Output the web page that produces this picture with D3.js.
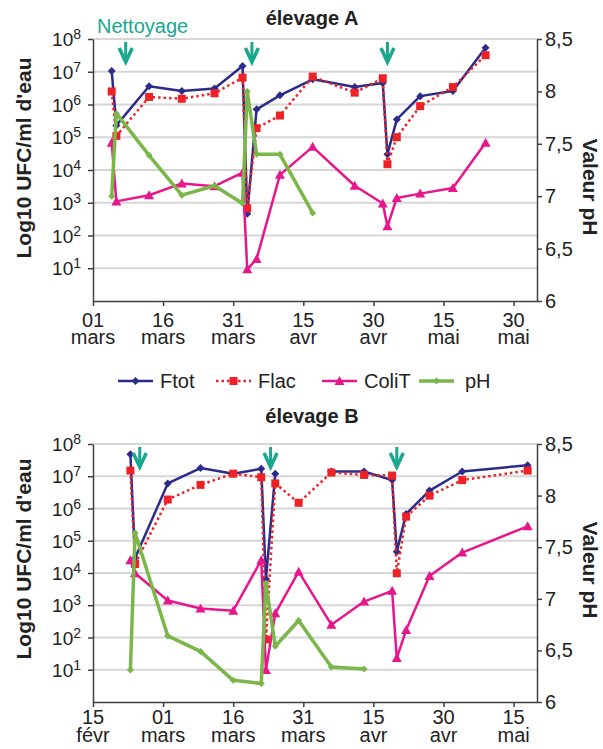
<!DOCTYPE html>
<html>
<head>
<meta charset="utf-8">
<script src="https://cdn.jsdelivr.net/npm/d3@7/dist/d3.min.js"></script>
<style>
  body { margin: 0; background: #fff; }
  text { font-family: "Liberation Sans", Arial, Helvetica, sans-serif; fill: #222; }
</style>
</head>
<body>
<div id="chart"></div>
<script>
// ---- data : élevage A ----
const datesA = ["2008-03-05", "2008-03-06", "2008-03-13", "2008-03-20", "2008-03-27", "2008-04-02", "2008-04-03",
  "2008-04-05", "2008-04-10", "2008-04-17", "2008-04-26", "2008-05-02", "2008-05-03", "2008-05-05",
  "2008-05-10", "2008-05-17", "2008-05-24"]
const ftotA = [1.05e7, 2.3e5, 3.6e6, 2.6e6, 3.1e6, 1.5e7, 4.6e2, 7.1e5, 1.9e6, 5.9e6, 3.4e6, 4.5e6, 3.0e4, 3.5e5, 1.8e6, 2.6e6, 5.4e7]
const flacA = [2.5e6, 1.1e5, 1.7e6, 1.5e6, 2.2e6, 6.6e6, 6.8e2, 1.9e5, 4.6e5, 7.1e6, 2.3e6, 6.3e6, 1.5e4, 1.0e5, 8.9e5, 3.4e6, 3.2e7]
const colitA = [6.8e4, 1.1e3, 1.7e3, 3.9e3, 3.2e3, 8.3e3, 9.3, 19, 7.1e3, 5.1e4, 3.3e3, 9.5e2, 1.9e2, 1.4e3, 1.9e3, 2.8e3, 6.8e4]
const phA = [7.00, 7.79, 7.39, 7.01, 7.10, 6.93, 8.00, 7.40, 7.40, 6.84, null, null, null, null, null, null, null]
const cleaningA = ["2008-03-08", "2008-04-04", "2008-05-03"]
const tickDatesA = ["2008-03-01", "2008-03-16", "2008-03-31", "2008-04-15", "2008-04-30", "2008-05-15", "2008-05-30"]
const tickDaysA = ["01", "16", "31", "15", "30", "15", "30"]
const tickMonthsA = ["mars", "mars", "mars", "avr", "avr", "mai", "mai"]

// ---- data : élevage B ----
const datesB = ["2008-02-23", "2008-02-24", "2008-03-02", "2008-03-09", "2008-03-16", "2008-03-22", "2008-03-23",
  "2008-03-25", "2008-03-30", "2008-04-06", "2008-04-13", "2008-04-19", "2008-04-20", "2008-04-22",
  "2008-04-27", "2008-05-04", "2008-05-18"]
const ftotB = [4.8e7, 2.9e4, 6.0e6, 1.8e7, 1.2e7, 1.7e7, 6.5e3, 1.2e7, null, 1.4e7, 1.4e7, 7.6e6, 4.6e4, 6.8e5, 3.6e6, 1.4e7, 2.2e7]
const flacB = [1.5e7, 1.9e4, 1.9e6, 5.4e6, 1.2e7, 9.3e6, 87, 6.0e6, 1.5e6, 1.3e7, 1.1e7, 1.05e7, 9.8e3, 5.6e5, 2.5e6, 7.6e6, 1.5e7]
const colitB = [2.5e4, 9.8e3, 1.4e3, 7.9e2, 6.8e2, 2.5e4, 9.8, 5.6e2, 1.1e4, 2.5e2, 1.3e3, 2.8e3, 23, 1.7e2, 8.1e3, 4.3e4, 2.8e5]
const phB = [6.31, 7.64, 6.64, 6.49, 6.21, 6.18, 7.15, 6.54, 6.79, 6.34, 6.32, null, null, null, null, null, null]
const cleaningB = ["2008-02-25", "2008-03-24", "2008-04-20"]
const tickDatesB = ["2008-02-15", "2008-03-01", "2008-03-16", "2008-03-31", "2008-04-15", "2008-04-30", "2008-05-15"]
const tickDaysB = ["15", "01", "16", "31", "15", "30", "15"]
const tickMonthsB = ["févr", "mars", "mars", "mars", "avr", "avr", "mai"]

const decades = [1e1, 1e2, 1e3, 1e4, 1e5, 1e6, 1e7, 1e8]
const phTicks = [6, 6.5, 7, 7.5, 8, 8.5]
const seriesNames = ["Ftot", "Flac", "ColiT", "pH"]

const parse = d3.utcParse("%Y-%m-%d")
const teal = "#17a88d"
const axisColor = "#404040"

const width = 603, height = 749
const svg = d3.select("#chart").append("svg")
  .attr("width", width)
  .attr("height", height)

// marker shapes
function marker(g, type, color) {
  if (type === "diamond") {
    g.append("path").attr("d", "M0,-4L4,0L0,4L-4,0Z").attr("fill", color)
  } else if (type === "square") {
    g.append("rect").attr("x", -4).attr("y", -4).attr("width", 8).attr("height", 8).attr("fill", color)
  } else if (type === "triangle") {
    g.append("path").attr("d", "M0,-5L5,4L-5,4Z").attr("fill", color)
  } else if (type === "smalldiamond") {
    g.append("path").attr("d", "M0,-3.5L3.5,0L0,3.5L-3.5,0Z").attr("fill", color)
  }
}

const styles = {
  Ftot: { color: "#2b2b8c", width: 2.5, dash: null, marker: "diamond" },
  Flac: { color: "#ec2227", width: 2.5, dash: "2.5,3", marker: "square" },
  ColiT: { color: "#e8168c", width: 2.5, dash: null, marker: "triangle" },
  pH: { color: "#7ab648", width: 3.5, dash: null, marker: "smalldiamond" }
}

function drawPanel(p) {
  const x = d3.scaleUtc().domain(p.domain.map(parse)).range([93, 537])
  const y = d3.scaleLog().domain([1, 1e8]).range([p.bottom, p.top])
  const yPh = d3.scaleLinear().domain([6, 8.5]).range([p.bottom, p.top])

  const g = svg.append("g")

  // gridlines
  g.selectAll(".grid").data(decades).enter().append("line")
    .attr("x1", 93).attr("x2", 537)
    .attr("y1", d => y(d)).attr("y2", d => y(d))
    .attr("stroke", "#d6d6d6").attr("stroke-width", 2)

  // left axis
  const left = g.append("g").attr("transform", "translate(93,0)")
    .call(d3.axisLeft(y).tickValues(decades).tickFormat("").tickSize(5).tickSizeOuter(0))
  const lbl = g.selectAll(".ylab").data(decades).enter().append("text")
    .attr("x", 81).attr("y", d => y(d) + 7)
    .attr("text-anchor", "end")
    .style("font-size", "19px")
  lbl.append("tspan").text("10")
  lbl.append("tspan").text(d => Math.round(Math.log10(d))).attr("dy", -7).style("font-size", "14px")

  // right axis
  const right = g.append("g").attr("transform", "translate(537,0)")
    .call(d3.axisRight(yPh).tickValues(phTicks).tickFormat(d => String(d).replace(".", ",")).tickSize(5).tickSizeOuter(0).tickPadding(3))
  right.selectAll("text").style("font-size", "20px").attr("fill", "#222")

  // bottom axis, day and month on two lines of one label
  const bottom = g.append("g").attr("transform", "translate(0," + p.bottom + ")")
    .call(d3.axisBottom(x).tickValues(p.tickDates.map(parse)).tickFormat("").tickSize(5).tickSizeOuter(0))
  const xl = g.selectAll(".xlab").data(p.tickDates).enter().append("text")
    .attr("text-anchor", "middle").style("font-size", "20px")
  xl.append("tspan")
    .attr("x", d => x(parse(d))).attr("y", p.bottom + p.dayOff)
    .text((d, i) => p.tickDays[i])
  xl.append("tspan")
    .attr("x", d => x(parse(d))).attr("dy", p.monOff - p.dayOff)
    .text((d, i) => p.tickMonths[i])

  ;[left, right, bottom].forEach(a => {
    a.select(".domain").attr("stroke", axisColor).attr("stroke-width", 1.5)
    a.selectAll(".tick line").attr("stroke", axisColor).attr("stroke-width", 1.5)
  })

  // titles
  g.append("text").attr("x", 312).attr("y", p.titleY)
    .attr("text-anchor", "middle").style("font-size", "20px").style("font-weight", "bold")
    .text(p.title)
  g.append("text").attr("transform", "translate(31," + p.leftTitleY + ") rotate(-90)")
    .attr("text-anchor", "middle").style("font-size", "21px").style("font-weight", "bold")
    .text("Log10 UFC/ml d'eau")
  g.append("text").attr("transform", "translate(583," + p.rightTitleY + ") rotate(90)")
    .attr("text-anchor", "middle").style("font-size", "21px").style("font-weight", "bold")
    .text("Valeur pH")

  // series
  const dates = p.dates.map(parse)
  const series = [
    { name: "Ftot", values: p.ftot, scale: y },
    { name: "Flac", values: p.flac, scale: y },
    { name: "ColiT", values: p.colit, scale: y },
    { name: "pH", values: p.ph, scale: yPh }
  ]
  series.forEach(s => {
    const st = styles[s.name]
    const pts = dates.map((d, i) => ({ date: d, v: s.values[i] }))
    const line = d3.line()
      .defined(d => d.v != null)
      .x(d => x(d.date))
      .y(d => s.scale(d.v))
    g.append("path").datum(pts)
      .attr("d", line)
      .attr("fill", "none")
      .attr("stroke", st.color)
      .attr("stroke-width", st.width)
      .attr("stroke-linejoin", "round")
      .attr("stroke-dasharray", st.dash)
    g.selectAll(null).data(pts.filter(d => d.v != null)).enter().append("g")
      .attr("transform", d => "translate(" + x(d.date) + "," + s.scale(d.v) + ")")
      .each(function () { marker(d3.select(this), st.marker, st.color) })
  })

  // cleaning arrows
  p.cleaning.forEach(c => {
    const cx = x(parse(c))
    const a = g.append("g").attr("transform", "translate(" + cx + "," + (p.top + 3) + ")")
    a.append("line").attr("x1", 0).attr("x2", 0).attr("y1", 0).attr("y2", 19)
      .attr("stroke", teal).attr("stroke-width", 3)
    a.append("path").attr("d", "M-6.5,6L0,20L6.5,6")
      .attr("fill", "none").attr("stroke", teal).attr("stroke-width", 3.5)
  })
}

drawPanel({
  title: "élevage A", top: 39, bottom: 301, titleY: 25,
  leftTitleY: 158, rightTitleY: 187, dayOff: 26, monOff: 43,
  domain: ["2008-03-01", "2008-06-04"],
  tickDates: tickDatesA, tickDays: tickDaysA, tickMonths: tickMonthsA,
  dates: datesA, ftot: ftotA, flac: flacA, colit: colitA, ph: phA, cleaning: cleaningA
})

drawPanel({
  title: "élevage B", top: 444, bottom: 702, titleY: 423,
  leftTitleY: 559, rightTitleY: 570, dayOff: 22, monOff: 40,
  domain: ["2008-02-15", "2008-05-20"],
  tickDates: tickDatesB, tickDays: tickDaysB, tickMonths: tickMonthsB,
  dates: datesB, ftot: ftotB, flac: flacB, colit: colitB, ph: phB, cleaning: cleaningB
})

// "Nettoyage" label
svg.append("text").attr("x", 97).attr("y", 33)
  .style("font-size", "20px").style("fill", teal)
  .text("Nettoyage")

// legend
const legendX = [118, 216, 322, 419]
const legend = svg.selectAll(".legend").data(seriesNames).enter().append("g")
  .attr("transform", (d, i) => "translate(" + legendX[i] + ",381)")
legend.append("line")
  .attr("x1", 0).attr("x2", 35).attr("y1", 0).attr("y2", 0)
  .attr("stroke", d => styles[d].color)
  .attr("stroke-width", d => styles[d].width)
  .attr("stroke-dasharray", d => styles[d].dash)
legend.append("g").attr("transform", "translate(17.5,0)")
  .each(function (d) { marker(d3.select(this), styles[d].marker, styles[d].color) })
legend.append("text")
  .attr("x", (d, i) => i === 3 ? 46 : 42).attr("y", 7)
  .style("font-size", "20px")
  .text(d => d)
</script>
</body>
</html>
